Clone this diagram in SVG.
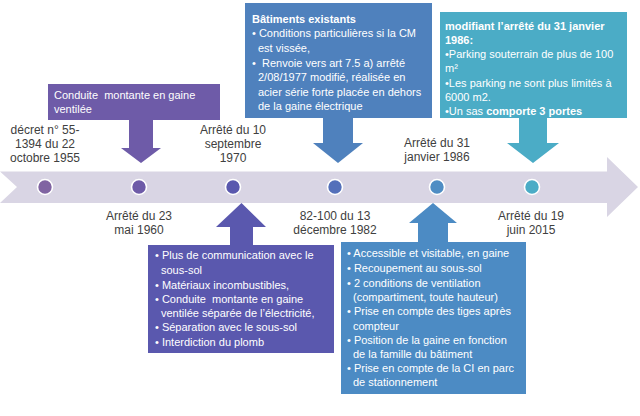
<svg xmlns="http://www.w3.org/2000/svg" width="640" height="416" viewBox="0 0 640 416">
<style>
.lbl{font-family:"Liberation Sans",Arial,sans-serif;font-size:12px;fill:#404040;text-anchor:middle}
.bx{font-family:"Liberation Sans",Arial,sans-serif;font-size:11px;fill:#ffffff;white-space:pre}
.b{font-weight:bold}
.dot{stroke:#ffffff;stroke-width:1.6}
</style>
<rect width="640" height="416" fill="#ffffff"/>
<g id="timeline">
<polygon points="0,171.5 607,171.5 607,157 638,187 607,217 607,203 0,203 17,187" fill="#D9D5E4"/>
</g>
<g id="dots">
<circle id="d1955" cx="45" cy="187" r="7.5" class="dot" fill="#8064A2"/>
<circle id="d1960" cx="139" cy="187" r="7.5" class="dot" fill="#6E5BA8"/>
<circle id="d1970" cx="233" cy="187" r="7.5" class="dot" fill="#5A58AE"/>
<circle id="d1982" cx="335" cy="187" r="7.5" class="dot" fill="#5470BA"/>
<circle id="d1986" cx="437" cy="187" r="7.5" class="dot" fill="#4F8DC4"/>
<circle id="d2015" cx="532" cy="187" r="7.5" class="dot" fill="#4BACC6"/>
</g>
<g id="labels">
<text class="lbl" x="45" y="134">décret n° 55-</text>
<text class="lbl" x="45" y="148">1394 du 22</text>
<text class="lbl" x="45" y="162">octobre 1955</text>
<text class="lbl" x="233" y="134">Arrêté du 10</text>
<text class="lbl" x="233" y="148">septembre</text>
<text class="lbl" x="233" y="162">1970</text>
<text class="lbl" x="437" y="147">Arrêté du 31</text>
<text class="lbl" x="437" y="161">janvier 1986</text>
<text class="lbl" x="139" y="220">Arrêté du 23</text>
<text class="lbl" x="139" y="234">mai 1960</text>
<text class="lbl" x="335" y="220">82-100 du 13</text>
<text class="lbl" x="335" y="234">décembre 1982</text>
<text class="lbl" x="531" y="220">Arrêté du 19</text>
<text class="lbl" x="531" y="234">juin 2015</text>
</g>
<g id="connectors">
<polygon points="129,119 153,119 153,148 161,148 141,163 121,148 129,148" fill="#6E5BA8"/>
<polygon points="323,117 353,117 353,143 363,143 338,163 313,143 323,143" fill="#4F81BD"/>
<polygon points="519,117 547,117 547,143 559,143 533,163 507,143 519,143" fill="#4BACC6"/>
<polygon points="230,246 253,246 253,227 266,227 241.5,203 216,227 230,227" fill="#5A58AE"/>
<polygon points="418,243 448,243 448,223 457,223 433,203 409,223 418,223" fill="#4C8BC4"/>
</g>
<g id="box1955">
<rect x="48" y="84" width="172" height="36" fill="#6E5BA8"/>
<text class="bx" x="54" y="99" xml:space="preserve">Conduite  montante en gaine</text>
<text class="bx" x="54" y="113">ventilée</text>
</g>
<g id="box1982">
<rect x="245" y="3" width="187" height="115" fill="#4F81BD"/>
<text class="bx b" x="252" y="23">Bâtiments existants</text>
<text class="bx" x="252" y="37">• Conditions particulières si la CM</text>
<text class="bx" x="258" y="52">est vissée,</text>
<text class="bx" x="252" y="67" xml:space="preserve">•  Renvoie vers art 7.5 a) arrêté</text>
<text class="bx" x="258" y="81">2/08/1977 modifié, réalisée en</text>
<text class="bx" x="258" y="96">acier série forte placée en dehors</text>
<text class="bx" x="258" y="110">de la gaine électrique</text>
</g>
<g id="box2015">
<rect x="440" y="12" width="187" height="106" fill="#4BACC6"/>
<text class="bx b" x="445" y="30">modifiant l’arrêté du 31 janvier</text>
<text class="bx b" x="445" y="44">1986:</text>
<text class="bx" x="445" y="58">•Parking souterrain de plus de 100</text>
<text class="bx" x="445" y="72">m²</text>
<text class="bx" x="445" y="87">•Les parking ne sont plus limités à</text>
<text class="bx" x="445" y="101">6000 m2.</text>
<text class="bx" x="445" y="115">•Un sas <tspan class="b">comporte 3 portes</tspan></text>
</g>
<g id="box1970">
<rect x="148" y="245" width="186" height="108" fill="#5A58AE"/>
<text class="bx" x="155" y="259">• Plus de communication avec le</text>
<text class="bx" x="161" y="274">sous-sol</text>
<text class="bx" x="155" y="289">• Matériaux incombustibles,</text>
<text class="bx" x="155" y="303" xml:space="preserve">• Conduite  montante en gaine</text>
<text class="bx" x="161" y="317">ventilée séparée de l’électricité,</text>
<text class="bx" x="155" y="331">• Séparation avec le sous-sol</text>
<text class="bx" x="155" y="346">• Interdiction du plomb</text>
</g>
<g id="box1986">
<rect x="341" y="242" width="185" height="152" fill="#4C8BC4"/>
<text class="bx" x="347" y="257">• Accessible et visitable, en gaine</text>
<text class="bx" x="347" y="272">• Recoupement au sous-sol</text>
<text class="bx" x="347" y="287">• 2 conditions de ventilation</text>
<text class="bx" x="353" y="301">(compartiment, toute hauteur)</text>
<text class="bx" x="347" y="315">• Prise en compte des tiges après</text>
<text class="bx" x="353" y="330">compteur</text>
<text class="bx" x="347" y="344">• Position de la gaine en fonction</text>
<text class="bx" x="353" y="358">de la famille du bâtiment</text>
<text class="bx" x="347" y="372">• Prise en compte de la CI en parc</text>
<text class="bx" x="353" y="386">de stationnement</text>
</g>
</svg>
